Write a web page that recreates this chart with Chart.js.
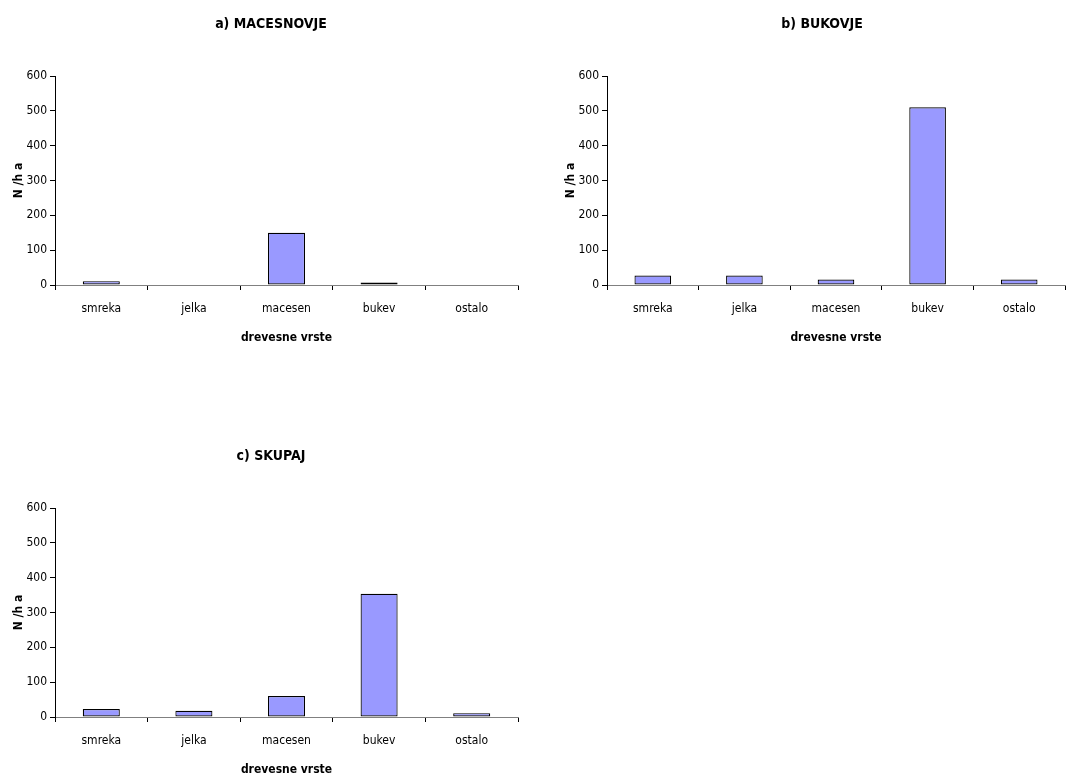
<!DOCTYPE html>
<html>
<head>
<meta charset="utf-8">
<script src="https://cdn.jsdelivr.net/npm/chart.js@4/dist/chart.umd.min.js"></script>
<style>
  html, body { margin: 0; padding: 0; background: #fff; overflow: hidden; }
  body { width: 1083px; height: 777px; position: relative; }
  .box { position: absolute; }
</style>
</head>
<body>
<div class="box" id="boxA" style="left:0px; top:0px; width:530px; height:345px;"><canvas id="chartA"></canvas></div>
<div class="box" id="boxB" style="left:552px; top:0px; width:520px; height:345px;"><canvas id="chartB"></canvas></div>
<div class="box" id="boxC" style="left:0px; top:432px; width:530px; height:345px;"><canvas id="chartC"></canvas></div>
<script>
// Tree species (drevesne vrste) and stem density N/ha per stand type
const categories = ['smreka', 'jelka', 'macesen', 'bukev', 'ostalo'];
const macesnovje = [11, 0, 150, 7, 0];
const bukovje = [27, 27, 16, 510, 16];
const skupaj = [23, 18, 60, 354, 11];
const yTicks = [0, 100, 200, 300, 400, 500, 600];

const FONT = "'Liberation Sans Narrow', 'Arial Narrow', 'DejaVu Sans Condensed', sans-serif";

// Panel heading drawn at a fixed spot of each canvas
const panelTitle = {
  id: 'panelTitle',
  afterDraw(chart, args, opts) {
    const ctx = chart.ctx;
    ctx.save();
    ctx.font = 'bold 14px ' + FONT;
    ctx.fillStyle = '#000';
    ctx.textAlign = 'center';
    ctx.textBaseline = 'middle';
    ctx.fillText(opts.text, opts.x, opts.y);
    ctx.restore();
  }
};

function makeChart(id, values, title, titleX, padRight) {
  return new Chart(document.getElementById(id), {
    type: 'bar',
    data: {
      labels: categories,
      datasets: [{
        data: values,
        backgroundColor: '#9999FF',
        borderColor: '#000000',
        borderWidth: 1.2,
        borderSkipped: false,
        categoryPercentage: 1.0,
        barPercentage: 0.4
      }]
    },
    options: {
      responsive: true,
      maintainAspectRatio: false,
      animation: false,
      layout: { padding: { top: 76, right: padRight, bottom: 0, left: 0 } },
      plugins: {
        legend: { display: false },
        tooltip: { enabled: false },
        title: { display: false },
        panelTitle: { text: title, x: titleX, y: 24 }
      },
      scales: {
        x: {
          type: 'category',
          grid: { display: true, offset: true, drawOnChartArea: false, tickLength: 5, color: '#000' },
          border: { display: true, color: '#808080', width: 1 },
          ticks: { color: '#000', font: { family: FONT, size: 12 }, padding: 12, maxRotation: 0 },
          title: { display: true, text: 'drevesne vrste', color: '#000',
                   font: { family: FONT, size: 12, weight: 'bold' }, padding: { top: 0, bottom: 0 } },
          afterFit(scale) { scale.height = 60; }
        },
        y: {
          min: 0, max: 600,
          afterBuildTicks(scale) { scale.ticks = yTicks.map(v => ({ value: v })); },
          grid: { display: true, drawOnChartArea: false, tickLength: 5, color: '#000' },
          border: { display: true, color: '#000', width: 1 },
          ticks: { color: '#000', font: { family: FONT, size: 12 }, padding: 3 },
          title: { display: true, text: 'N /h a', color: '#000',
                   font: { family: FONT, size: 12, weight: 'bold' }, padding: { top: 12, bottom: 0 } },
          afterFit(scale) { scale.width = 55; }
        }
      }
    },
    plugins: [panelTitle]
  });
}

makeChart('chartA', macesnovje, 'a) MACESNOVJE', 271, 12);
makeChart('chartB', bukovje, 'b) BUKOVJE', 270, 7);
makeChart('chartC', skupaj, 'c) SKUPAJ', 271, 12);
</script>
</body>
</html>
